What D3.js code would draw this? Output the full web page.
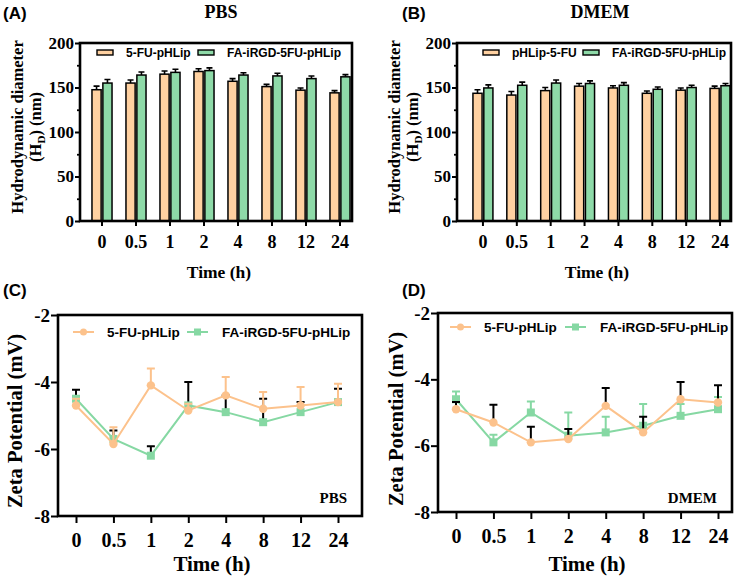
<!DOCTYPE html>
<html>
<head>
<meta charset="utf-8">
<script src="https://cdn.jsdelivr.net/npm/d3@7"></script>
<style>
  body { margin: 0; background: #fff; }
  svg { display: block; }
  .serif { font-family: "Liberation Serif", "Times New Roman", serif; font-weight: bold; }
  .sans { font-family: "Liberation Sans", Arial, sans-serif; font-weight: bold; }
</style>
</head>
<body>
<svg width="741" height="579"></svg>
<script>
// time points (h)
var times = ["0", "0.5", "1", "2", "4", "8", "12", "24"];

// hydrodynamic diameter (nm), PBS
var pbsFU = [147.5, 155, 165, 168, 157, 151, 147, 144];
var pbsFUErr = [4, 3.5, 3.5, 3, 3, 2.5, 2.5, 2.5];
var pbsFA = [155, 164, 167, 169, 164, 163, 160, 162];
var pbsFAErr = [4, 3.5, 3.5, 3, 2.5, 3, 3, 2.5];

// hydrodynamic diameter (nm), DMEM
var dmemFU = [143.5, 141.5, 146.5, 151.5, 149.5, 143.5, 147, 149];
var dmemFUErr = [4, 4, 3.5, 3, 2.5, 2.5, 2.5, 2.5];
var dmemFA = [149.5, 152.5, 155, 154.5, 152.5, 148, 150, 152];
var dmemFAErr = [3.5, 3.5, 3.5, 3, 3, 2.5, 2.5, 2.5];

// zeta potential (mV), PBS
var zPbsFU = [-4.7, -5.85, -4.1, -4.85, -4.4, -4.8, -4.7, -4.6];
var zPbsFUErr = [0.2, 0.5, 0.5, 0.2, 0.55, 0.5, 0.55, 0.55];
var zPbsFA = [-4.5, -5.7, -6.2, -4.7, -4.9, -5.2, -4.9, -4.6];
var zPbsFAErr = [0.27, 0.25, 0.28, 0.7, 0.5, 0.7, 0.3, 0.4];

// zeta potential (mV), DMEM
var zDmemFU = [-4.9, -5.3, -5.9, -5.8, -4.8, -5.6, -4.6, -4.7];
var zDmemFUErr = [0.22, 0.53, 0.47, 0.3, 0.54, 0.47, 0.52, 0.52];
var zDmemFA = [-4.6, -5.9, -5.0, -5.7, -5.6, -5.4, -5.1, -4.9];
var zDmemFAErr = [0.23, 0.23, 0.33, 0.7, 0.47, 0.66, 0.36, 0.37];

var sizeTicks = [0, 50, 100, 150, 200];
var sizeMinor = [25, 75, 125, 175];
var zetaTicks = [-8, -6, -4, -2];

var orangeBar = "#ffd1a1", greenBar = "#8edaa8";
var orangeLine = "#fcc28c", greenLine = "#86d8a3";

var svg = d3.select("svg");

function panelText(txt, x, y) {
  svg.append("text").attr("class", "sans").attr("x", x).attr("y", y)
     .attr("font-size", 17).text(txt);
}

function barPanel(cfg) {
  var g = svg.append("g");
  var y = d3.scaleLinear().domain([0, 200]).range([cfg.bottom, cfg.top]);
  var x0 = d3.scaleBand().domain(times).range(cfg.band)
             .paddingInner(0.41).paddingOuter(0.205);
  var x1 = d3.scaleBand().domain(["a", "b"]).range([0, x0.bandwidth()]).paddingInner(0.16);

  var series = [
    {key: "a", vals: cfg.fu, errs: cfg.fuErr, fill: orangeBar},
    {key: "b", vals: cfg.fa, errs: cfg.faErr, fill: greenBar}
  ];

  series.forEach(function(s) {
    var grp = g.append("g");
    // error bars (upper only)
    grp.selectAll(".err").data(times).enter().append("path")
      .attr("d", function(t, i) {
        var cx = x0(t) + x1(s.key) + x1.bandwidth() / 2;
        var top = y(s.vals[i] + s.errs[i]);
        return "M" + cx + "," + y(s.vals[i]) + "V" + top +
               "M" + (cx - 3) + "," + top + "H" + (cx + 3);
      })
      .attr("stroke", "#000").attr("stroke-width", 1.6).attr("fill", "none");
    grp.selectAll("rect").data(times).enter().append("rect")
      .attr("x", function(t) { return x0(t) + x1(s.key); })
      .attr("width", x1.bandwidth())
      .attr("y", function(t, i) { return y(s.vals[i]); })
      .attr("height", function(t, i) { return cfg.bottom - y(s.vals[i]); })
      .attr("fill", s.fill).attr("stroke", "#000").attr("stroke-width", 1.5);
  });

  // frame
  g.append("rect").attr("x", cfg.left).attr("y", cfg.top)
    .attr("width", cfg.right - cfg.left).attr("height", cfg.bottom - cfg.top)
    .attr("fill", "none").attr("stroke", "#000").attr("stroke-width", 2.6);

  var ya = g.append("g").attr("transform", "translate(" + cfg.left + ",0)")
    .call(d3.axisLeft(y).tickValues(sizeTicks).tickSize(5).tickPadding(1));
  g.append("g").attr("transform", "translate(" + cfg.left + ",0)")
    .call(d3.axisLeft(y).tickValues(sizeMinor).tickSize(3).tickFormat(""))
    .call(function(a) { a.select(".domain").remove(); a.selectAll("line").attr("stroke-width", 1.8); });
  ya.select(".domain").remove();
  ya.selectAll("line").attr("stroke-width", 2);
  ya.selectAll("text").attr("class", "serif").attr("font-size", 17).attr("fill", "#000");

  var xa = g.append("g").attr("transform", "translate(0," + cfg.bottom + ")")
    .call(d3.axisBottom(x0).tickSize(5).tickPadding(9));
  xa.select(".domain").remove();
  xa.selectAll("line").attr("stroke-width", 2);
  xa.selectAll("text").attr("class", "serif").attr("font-size", 18).attr("fill", "#000");

  // axis titles
  g.append("text").attr("class", "serif").attr("font-size", 17.5)
    .attr("text-anchor", "middle").attr("x", (cfg.left + cfg.right) / 2 + 3).attr("y", 278)
    .text("Time (h)");
  var yt = g.append("text").attr("class", "serif").attr("font-size", 16.5)
    .attr("text-anchor", "middle")
    .attr("transform", "translate(" + cfg.yTitleX + ",127) rotate(-90)");
  yt.append("tspan").attr("x", 0).attr("dy", 0).text("Hydrodynamic diameter");
  var l2 = yt.append("tspan").attr("x", 0).attr("dy", 17.5);
  l2.append("tspan").text("(H");
  l2.append("tspan").attr("font-size", 11).attr("dy", 4).text("D");
  l2.append("tspan").attr("dy", -4).text(") (nm)");

  g.append("text").attr("class", "serif").attr("font-size", 18)
    .attr("text-anchor", "middle").attr("x", cfg.titleX).attr("y", 18).text(cfg.title);

  // legend
  var lg = g.append("g").attr("class", "sans").attr("font-size", 12);
  [[cfg.leg[0], orangeBar, cfg.names[0]], [cfg.leg[1], greenBar, cfg.names[1]]].forEach(function(d) {
    lg.append("rect").attr("x", d[0]).attr("y", 50).attr("width", 16).attr("height", 5)
      .attr("fill", d[1]).attr("stroke", "#000").attr("stroke-width", 1.4);
    lg.append("text").attr("x", d[0] + 29).attr("y", 57).text(d[2]);
  });
}

function linePanel(cfg) {
  var g = svg.append("g");
  var y = d3.scaleLinear().domain([-8, -2]).range([cfg.bottom, cfg.top]);
  var x = d3.scalePoint().domain(times).range(cfg.pts);
  var line = d3.line().x(function(d) { return x(d.t); }).y(function(d) { return y(d.v); });

  var series = [
    {vals: cfg.fa, errs: cfg.faErr, color: greenLine, errColor: cfg.faErrColor, shape: "square"},
    {vals: cfg.fu, errs: cfg.fuErr, color: orangeLine, errColor: cfg.fuErrColor, shape: "circle"}
  ];

  series.forEach(function(s) {
    var pts = times.map(function(t, i) { return {t: t, v: s.vals[i], e: s.errs[i]}; });
    var grp = g.append("g");
    grp.selectAll(".err").data(pts).enter().append("path")
      .attr("d", function(d) {
        var cx = x(d.t), top = y(d.v + d.e);
        return "M" + cx + "," + y(d.v) + "V" + top + "M" + (cx - 4) + "," + top + "H" + (cx + 4);
      })
      .attr("stroke", s.errColor).attr("stroke-width", 2).attr("fill", "none");
    grp.append("path").datum(pts).attr("d", line)
      .attr("fill", "none").attr("stroke", s.color).attr("stroke-width", 2);
    if (s.shape === "circle") {
      grp.selectAll(".m").data(pts).enter().append("circle")
        .attr("cx", function(d) { return x(d.t); }).attr("cy", function(d) { return y(d.v); })
        .attr("r", 4.2).attr("fill", s.color);
    } else {
      grp.selectAll(".m").data(pts).enter().append("rect")
        .attr("x", function(d) { return x(d.t) - 4; }).attr("y", function(d) { return y(d.v) - 4; })
        .attr("width", 8).attr("height", 8).attr("fill", s.color);
    }
  });

  g.append("rect").attr("x", cfg.left).attr("y", cfg.top)
    .attr("width", cfg.right - cfg.left).attr("height", cfg.bottom - cfg.top)
    .attr("fill", "none").attr("stroke", "#000").attr("stroke-width", 2.6);

  var ya = g.append("g").attr("transform", "translate(" + cfg.left + ",0)")
    .call(d3.axisLeft(y).tickValues(zetaTicks).tickSize(7).tickPadding(1)
      .tickFormat(function(d) { return String(d); }));
  ya.select(".domain").remove();
  ya.selectAll("line").attr("stroke-width", 2);
  ya.selectAll("text").attr("class", "serif").attr("font-size", 19).attr("fill", "#000");

  var xa = g.append("g").attr("transform", "translate(0," + cfg.bottom + ")")
    .call(d3.axisBottom(x).tickSize(7).tickPadding(10));
  xa.select(".domain").remove();
  xa.selectAll("line").attr("stroke-width", 2);
  xa.selectAll("text").attr("class", "serif").attr("font-size", 20).attr("fill", "#000");

  g.append("text").attr("class", "serif").attr("font-size", 21)
    .attr("text-anchor", "middle").attr("x", (cfg.left + cfg.right) / 2 + 2).attr("y", 571)
    .text("Time (h)");
  g.append("text").attr("class", "serif").attr("font-size", 20.5)
    .attr("text-anchor", "middle")
    .attr("transform", "translate(" + cfg.yTitleX + "," + cfg.yTitleY + ") rotate(-90)")
    .text("Zeta Potential (mV)");
  g.append("text").attr("class", "serif").attr("font-size", 15)
    .attr("text-anchor", "end").attr("x", cfg.right - 15).attr("y", 503).text(cfg.medium);

  // legend
  var lg = g.append("g").attr("class", "sans").attr("font-size", 13.5);
  var ly = cfg.legY;
  lg.append("line").attr("x1", cfg.leg[0]).attr("x2", cfg.leg[0] + 21).attr("y1", ly).attr("y2", ly)
    .attr("stroke", orangeLine).attr("stroke-width", 2);
  lg.append("circle").attr("cx", cfg.leg[0] + 10.5).attr("cy", ly).attr("r", 3.5).attr("fill", orangeLine);
  lg.append("text").attr("x", cfg.leg[0] + 34).attr("y", ly + 5).text("5-FU-pHLip");
  lg.append("line").attr("x1", cfg.leg[1]).attr("x2", cfg.leg[1] + 21).attr("y1", ly).attr("y2", ly)
    .attr("stroke", greenLine).attr("stroke-width", 2);
  lg.append("rect").attr("x", cfg.leg[1] + 7).attr("y", ly - 3.5).attr("width", 7).attr("height", 7).attr("fill", greenLine);
  lg.append("text").attr("x", cfg.leg[1] + 35).attr("y", ly + 5).text("FA-iRGD-5FU-pHLip");
}

panelText("(A)", 3, 19);
panelText("(B)", 402, 19);
panelText("(C)", 3, 296);
panelText("(D)", 402, 296);

barPanel({left: 80, right: 352, top: 43, bottom: 221, band: [85, 357],
  fu: pbsFU, fuErr: pbsFUErr, fa: pbsFA, faErr: pbsFAErr,
  title: "PBS", titleX: 221, yTitleX: 23, leg: [97, 198],
  names: ["5-FU-pHLip", "FA-iRGD-5FU-pHLip"]});

barPanel({left: 457, right: 731, top: 43, bottom: 221, band: [466, 737],
  fu: dmemFU, fuErr: dmemFUErr, fa: dmemFA, faErr: dmemFAErr,
  title: "DMEM", titleX: 600, yTitleX: 400, leg: [483, 583],
  names: ["pHLip-5-FU", "FA-iRGD-5FU-pHLip"]});

linePanel({left: 58, right: 362, top: 315, bottom: 516, pts: [76, 338],
  fu: zPbsFU, fuErr: zPbsFUErr, fa: zPbsFA, faErr: zPbsFAErr,
  fuErrColor: orangeLine, faErrColor: "#000",
  yTitleX: 22, yTitleY: 421, medium: "PBS", leg: [73, 187], legY: 332});

linePanel({left: 438, right: 732, top: 313, bottom: 512, pts: [456, 718],
  fu: zDmemFU, fuErr: zDmemFUErr, fa: zDmemFA, faErr: zDmemFAErr,
  fuErrColor: "#000", faErrColor: greenLine,
  yTitleX: 403, yTitleY: 419, medium: "DMEM", leg: [450, 565], legY: 327});
</script>
</body>
</html>
